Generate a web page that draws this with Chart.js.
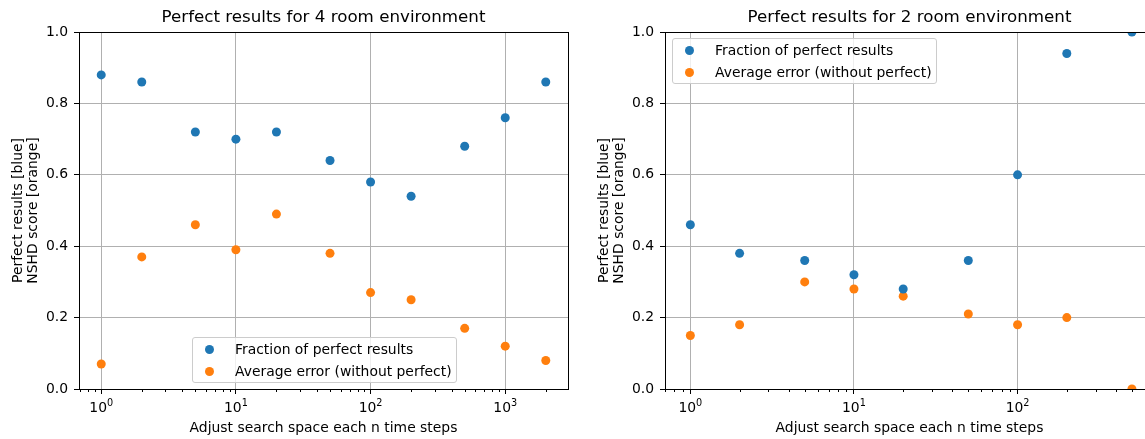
<!DOCTYPE html>
<html>
<head>
<meta charset="utf-8">
<script src="https://cdn.jsdelivr.net/npm/chart.js@4.4.1/dist/chart.umd.min.js"></script>
<style>
  html, body { margin: 0; padding: 0; background: #fff; }
  body { width: 1145px; height: 439px; overflow: hidden; position: relative; font-family: 'DejaVu Sans', sans-serif; }
  canvas { position: absolute; top: 0; }
  #chart4 { left: 0; }
  #chart2 { left: 586px; }
  .legend {
    position: absolute; box-sizing: border-box; width: 265px;
    background: rgba(255, 255, 255, 0.8); border: 1px solid #cccccc; border-radius: 3px;
    font-size: 13.9px; color: #000;
  }
  .legend .row { display: flex; align-items: center; height: 22px; }
  .legend .dot { width: 9px; height: 9px; border-radius: 50%; margin-left: 12px; margin-right: 21px; }
</style>
</head>
<body>
<canvas id="chart4" width="575" height="439"></canvas>
<canvas id="chart2" width="575" height="439"></canvas>

<script>
// Adjust interval (time steps) for each run
const steps4 = [1, 2, 5, 10, 20, 50, 100, 200, 500, 1000, 2000];
const perfect4 = [0.88, 0.86, 0.72, 0.70, 0.72, 0.64, 0.58, 0.54, 0.68, 0.76, 0.86];
const error4 = [0.07, 0.37, 0.46, 0.39, 0.49, 0.38, 0.27, 0.25, 0.17, 0.12, 0.08];

const steps2 = [1, 2, 5, 10, 20, 50, 100, 200, 500];
const perfect2 = [0.46, 0.38, 0.36, 0.32, 0.28, 0.36, 0.60, 0.94, 1.00];
const error2 = [0.15, 0.18, 0.30, 0.28, 0.26, 0.21, 0.18, 0.20, 0.00];

const seriesLabels = ['Fraction of perfect results', 'Average error (without perfect)'];
const seriesColors = ['#1f77b4', '#ff7f0e'];
const yTicks = [0, 0.2, 0.4, 0.6, 0.8, 1.0];

const FONT = "'DejaVu Sans', sans-serif";

// box around the plot area, like matplotlib spines
const frame = {
  id: 'frame',
  afterDraw(chart) {
    const a = chart.chartArea, ctx = chart.ctx;
    ctx.save();
    ctx.strokeStyle = '#000';
    ctx.lineWidth = 1;
    ctx.strokeRect(Math.round(a.left) + 0.5, Math.round(a.top) + 0.5,
      Math.round(a.right - a.left), Math.round(a.bottom - a.top));
    ctx.restore();
  }
};

// short minor tick marks between decades, plus 10^n labels with a raised exponent
const logAxisDecor = {
  id: 'logAxisDecor',
  afterDraw(chart) {
    const x = chart.scales.x, ctx = chart.ctx;
    ctx.save();
    ctx.strokeStyle = '#000';
    ctx.lineWidth = 1;
    for (let e = Math.floor(Math.log10(x.min)); e <= Math.ceil(Math.log10(x.max)); e++) {
      for (let m = 2; m <= 9; m++) {
        const v = m * Math.pow(10, e);
        if (v < x.min || v > x.max) continue;
        const px = Math.round(x.getPixelForValue(v)) + 0.5;
        ctx.beginPath();
        ctx.moveTo(px, x.top);
        ctx.lineTo(px, x.top + 3);
        ctx.stroke();
      }
    }

    ctx.fillStyle = '#000';
    ctx.textBaseline = 'alphabetic';
    ctx.textAlign = 'left';
    const base = x.top + 23;
    x.ticks.forEach(t => {
      const exp = String(Math.round(Math.log10(t.value)));
      ctx.font = '13.9px ' + FONT;
      const w1 = ctx.measureText('10').width;
      ctx.font = '9.7px ' + FONT;
      const w2 = ctx.measureText(exp).width;
      const start = x.getPixelForValue(t.value) - (w1 + w2) / 2;
      ctx.font = '13.9px ' + FONT;
      ctx.fillText('10', start, base);
      ctx.font = '9.7px ' + FONT;
      ctx.fillText(exp, start + w1, base - 6);
    });
    ctx.restore();
  }
};

function makeChart(id, title, steps, perfect, error) {
  // 5% padding on each side in log space
  const lo = Math.log10(Math.min(...steps)), hi = Math.log10(Math.max(...steps));
  const pad = (hi - lo) * 0.05;

  return new Chart(document.getElementById(id), {
    type: 'scatter',
    data: {
      datasets: [perfect, error].map((vals, i) => ({
        label: seriesLabels[i],
        data: steps.map((s, j) => ({ x: s, y: vals[j] })),
        backgroundColor: seriesColors[i],
        borderWidth: 0,
        pointRadius: 4.5,
        pointHoverRadius: 4.5,
        clip: 0
      }))
    },
    options: {
      responsive: false,
      animation: false,
      devicePixelRatio: 1,
      layout: { padding: { left: 0, right: 7, top: 0, bottom: 0 } },
      plugins: {
        legend: { display: false },
        tooltip: { enabled: false },
        title: {
          display: true,
          text: title,
          fullSize: false,
          color: '#000',
          font: { family: FONT, size: 16.7, weight: 'normal', lineHeight: 1.2 },
          padding: { top: 8, bottom: 4 }
        }
      },
      scales: {
        x: {
          type: 'logarithmic',
          min: Math.pow(10, lo - pad),
          max: Math.pow(10, hi + pad),
          afterFit(scale) { scale.height = 50; },
          afterBuildTicks(scale) {
            const ticks = [];
            for (let e = -1; e <= 5; e++) {
              const v = Math.pow(10, e);
              if (v >= scale.min && v <= scale.max) ticks.push({ value: v });
            }
            scale.ticks = ticks;
          },
          border: { color: '#000', width: 1 },
          grid: { color: '#b0b0b0', lineWidth: 1, tickColor: '#000', tickLength: 5, tickWidth: 1 },
          ticks: {
            autoSkip: false, maxRotation: 0, padding: 4, color: '#000',
            font: { family: FONT, size: 13.9 },
            callback: () => ''
          },
          title: {
            display: true,
            text: 'Adjust search space each n time steps',
            color: '#000',
            font: { family: FONT, size: 13.9, lineHeight: 1.2 },
            padding: { top: 0, bottom: 2 }
          }
        },
        y: {
          min: 0,
          max: 1,
          afterFit(scale) { scale.width = 79; },
          afterBuildTicks(scale) { scale.ticks = yTicks.map(v => ({ value: v })); },
          border: { color: '#000', width: 1 },
          grid: { color: '#b0b0b0', lineWidth: 1, tickColor: '#000', tickLength: 5, tickWidth: 1 },
          ticks: {
            padding: 6, color: '#000',
            font: { family: FONT, size: 13.9 },
            callback: v => v.toFixed(1)
          },
          title: {
            display: true,
            text: ['Perfect results [blue]', 'NSHD score [orange]'],
            color: '#000',
            font: { family: FONT, size: 13.9, lineHeight: 15 / 13.9 },
            padding: { top: 10.5, bottom: 0 }
          }
        }
      }
    },
    plugins: [frame, logAxisDecor]
  });
}

// matplotlib-style legend box placed inside the plot area
function addLegend(chart, canvasLeft, place) {
  const box = document.createElement('div');
  box.className = 'legend';
  chart.data.datasets.forEach(ds => {
    const row = document.createElement('div');
    row.className = 'row';
    const dot = document.createElement('span');
    dot.className = 'dot';
    dot.style.background = ds.backgroundColor;
    const txt = document.createElement('span');
    txt.textContent = ds.label;
    row.appendChild(dot);
    row.appendChild(txt);
    box.appendChild(row);
  });
  const a = chart.chartArea;
  if (place === 'lower') {
    box.style.left = (canvasLeft + a.left + 113) + 'px';
    box.style.top = (a.bottom - 52) + 'px';
  } else {
    box.style.left = (canvasLeft + a.left + 7) + 'px';
    box.style.top = (a.top + 6) + 'px';
  }
  document.body.appendChild(box);
}

const chart4 = makeChart('chart4', 'Perfect results for 4 room environment', steps4, perfect4, error4);
const chart2 = makeChart('chart2', 'Perfect results for 2 room environment', steps2, perfect2, error2);
addLegend(chart4, 0, 'lower');
addLegend(chart2, 586, 'upper');
</script>
</body>
</html>
